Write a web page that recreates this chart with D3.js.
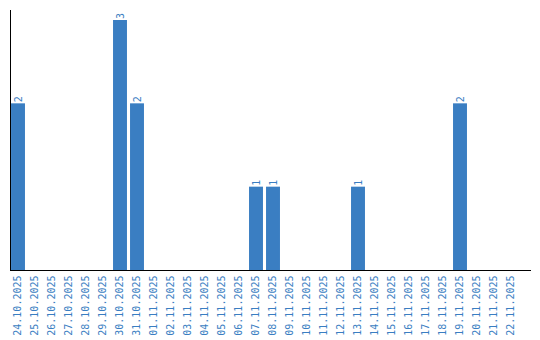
<!doctype html>
<html>
<head>
<script src="https://cdn.jsdelivr.net/npm/d3@7"></script>
<style>
  body { margin: 0; background: #fff; }
  text { font-family: "DejaVu Sans Mono", monospace; font-size: 10px; fill: #3a7ec2; }
</style>
</head>
<body>
<svg width="540" height="340"></svg>
<script>
var dates = ["24.10.2025","25.10.2025","26.10.2025","27.10.2025","28.10.2025","29.10.2025","30.10.2025","31.10.2025",
  "01.11.2025","02.11.2025","03.11.2025","04.11.2025","05.11.2025","06.11.2025","07.11.2025","08.11.2025",
  "09.11.2025","10.11.2025","11.11.2025","12.11.2025","13.11.2025","14.11.2025","15.11.2025","16.11.2025",
  "17.11.2025","18.11.2025","19.11.2025","20.11.2025","21.11.2025","22.11.2025"];
var counts = [2,0,0,0,0,0,3,2, 0,0,0,0,0,0,1,1, 0,0,0,0,1,0,0,0, 0,0,2,0,0,0];

var data = dates.map((d, i) => ({date: d, value: counts[i]}));
var svg = d3.select("svg");

var x = d3.scaleBand().domain(dates).range([9.5, 519.5]).paddingInner(0.18).paddingOuter(0.09);
var y = d3.scaleLinear().domain([0, 3.12]).range([270, 10]);

svg.selectAll("rect.bar")
  .data(data.filter(d => d.value > 0))
  .enter()
  .append("rect")
  .attr("class", "bar")
  .attr("x", d => x(d.date))
  .attr("width", x.bandwidth())
  .attr("y", d => y(d.value))
  .attr("height", d => y(0) - y(d.value))
  .style("fill", "#3a7ec2");

svg.selectAll("text.val")
  .data(data.filter(d => d.value > 0))
  .enter()
  .append("text")
  .attr("class", "val")
  .attr("transform", d => "translate(" + (x(d.date) + x.bandwidth() / 2) + "," + (y(d.value) - 1) + ") rotate(-90)")
  .attr("dy", "0.35em")
  .style("text-anchor", "start")
  .text(d => d.value);

svg.selectAll("text.lbl")
  .data(dates)
  .enter()
  .append("text")
  .attr("class", "lbl")
  .attr("transform", d => "translate(" + (x(d) + x.bandwidth() / 2 - 0.5) + ",275.5) rotate(-90)")
  .attr("dy", "0.35em")
  .style("text-anchor", "end")
  .text(d => d);

svg.append("line")
  .attr("x1", 10.5).attr("x2", 10.5).attr("y1", 10).attr("y2", 270)
  .style("stroke", "black").style("shape-rendering", "crispEdges");
svg.append("line")
  .attr("x1", 10).attr("x2", 531).attr("y1", 270.5).attr("y2", 270.5)
  .style("stroke", "black").style("shape-rendering", "crispEdges");
</script>
</body>
</html>
